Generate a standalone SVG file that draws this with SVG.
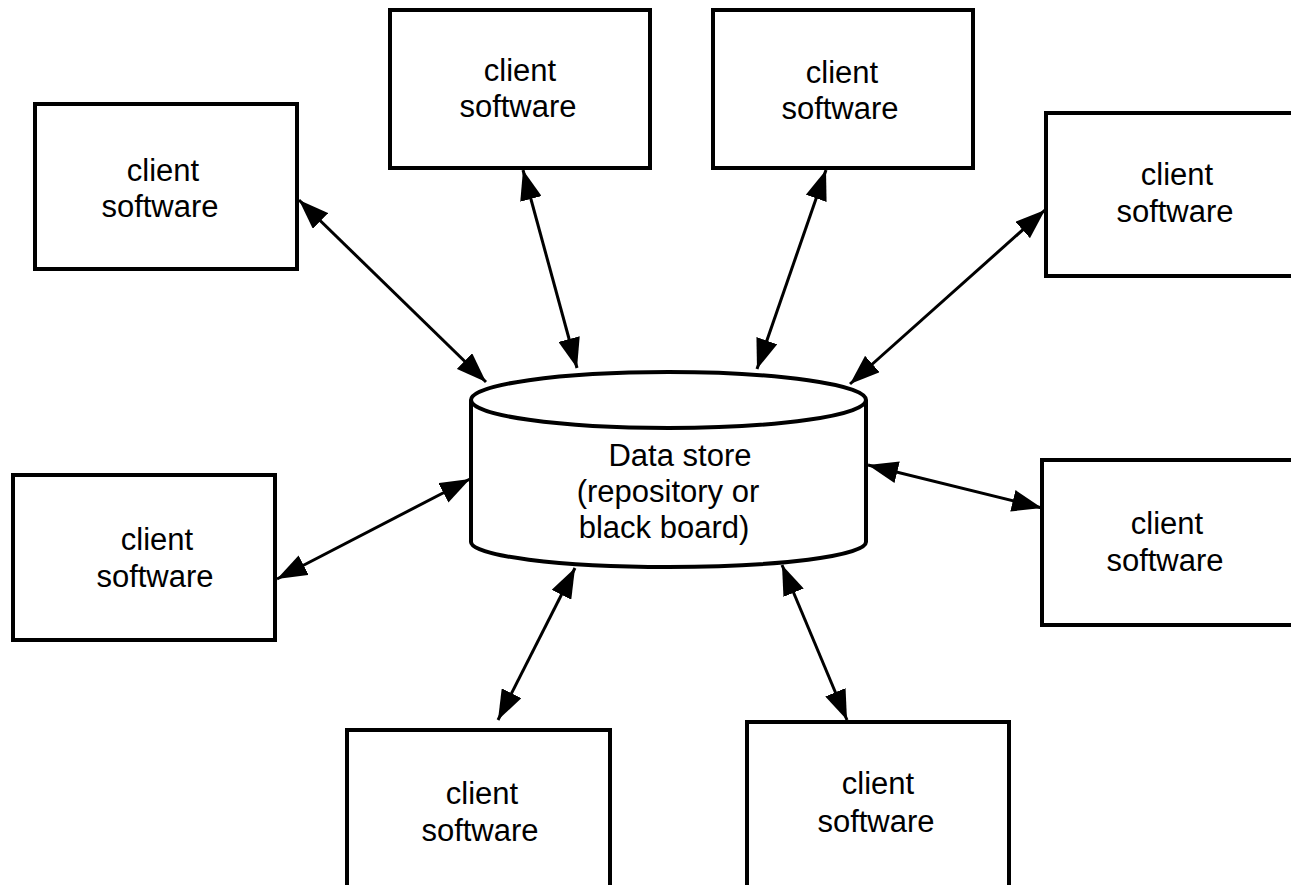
<svg xmlns="http://www.w3.org/2000/svg" width="1291" height="885" viewBox="0 0 1291 885">
  <style>
    .box { fill: #ffffff; stroke: #000000; stroke-width: 4; }
    .lbl { font-family: "Liberation Sans", Arial, sans-serif; font-size: 31px; fill: #000000; text-anchor: middle; }
    .link { stroke: #000000; stroke-width: 3; fill: none; marker-start: url(#head); marker-end: url(#head); }
    .store { fill: #ffffff; stroke: #000000; stroke-width: 4; }
  </style>
  <defs>
    <marker id="head" viewBox="0 0 30 22" refX="30" refY="11" markerWidth="30" markerHeight="22" markerUnits="userSpaceOnUse" orient="auto-start-reverse">
      <path d="M0,0 L30,11 L0,22 Z" fill="#000000"/>
    </marker>
  </defs>
  <rect x="0" y="0" width="1291" height="885" fill="#ffffff"/>

  <!-- connectors between each client and the data store -->
  <g id="connectors">
    <line class="link" x1="299" y1="200" x2="486" y2="382"/>
    <line class="link" x1="523" y1="170" x2="577" y2="368"/>
    <line class="link" x1="826" y1="170" x2="757" y2="369"/>
    <line class="link" x1="1045" y1="210" x2="850" y2="384"/>
    <line class="link" x1="277" y1="579" x2="470" y2="479"/>
    <line class="link" x1="868" y1="465" x2="1042" y2="508"/>
    <line class="link" x1="498" y1="720" x2="575" y2="568"/>
    <line class="link" x1="847" y1="720" x2="782" y2="565"/>
  </g>

  <!-- central data store cylinder -->
  <g id="datastore">
    <path class="store" d="M471,400 L471,542 A197.5,25 0 0 0 866,542 L866,400"/>
    <ellipse class="store" cx="668.5" cy="400" rx="197.5" ry="28"/>
    <text class="lbl" x="680" y="466">Data store</text>
    <text class="lbl" x="668" y="502">(repository or</text>
    <text class="lbl" x="664" y="538">black board)</text>
  </g>

  <g id="client1">
    <rect class="box" x="35" y="104" width="262" height="165"/>
    <text class="lbl" x="163" y="181">client</text>
    <text class="lbl" x="160" y="217">software</text>
  </g>
  <g id="client2">
    <rect class="box" x="390" y="10" width="260" height="158"/>
    <text class="lbl" x="520" y="81">client</text>
    <text class="lbl" x="518" y="117">software</text>
  </g>
  <g id="client3">
    <rect class="box" x="713" y="10" width="260" height="158"/>
    <text class="lbl" x="842" y="83">client</text>
    <text class="lbl" x="840" y="119">software</text>
  </g>
  <g id="client4">
    <rect class="box" x="1046" y="113" width="260" height="163"/>
    <text class="lbl" x="1177" y="185">client</text>
    <text class="lbl" x="1175" y="222">software</text>
  </g>
  <g id="client5">
    <rect class="box" x="13" y="475" width="262" height="165"/>
    <text class="lbl" x="157" y="550">client</text>
    <text class="lbl" x="155" y="587">software</text>
  </g>
  <g id="client6">
    <rect class="box" x="1042" y="460" width="260" height="165"/>
    <text class="lbl" x="1167" y="534">client</text>
    <text class="lbl" x="1165" y="571">software</text>
  </g>
  <g id="client7">
    <rect class="box" x="347" y="730" width="263" height="170"/>
    <text class="lbl" x="482" y="804">client</text>
    <text class="lbl" x="480" y="841">software</text>
  </g>
  <g id="client8">
    <rect class="box" x="747" y="722" width="262" height="178"/>
    <text class="lbl" x="878" y="794">client</text>
    <text class="lbl" x="876" y="832">software</text>
  </g>
</svg>
